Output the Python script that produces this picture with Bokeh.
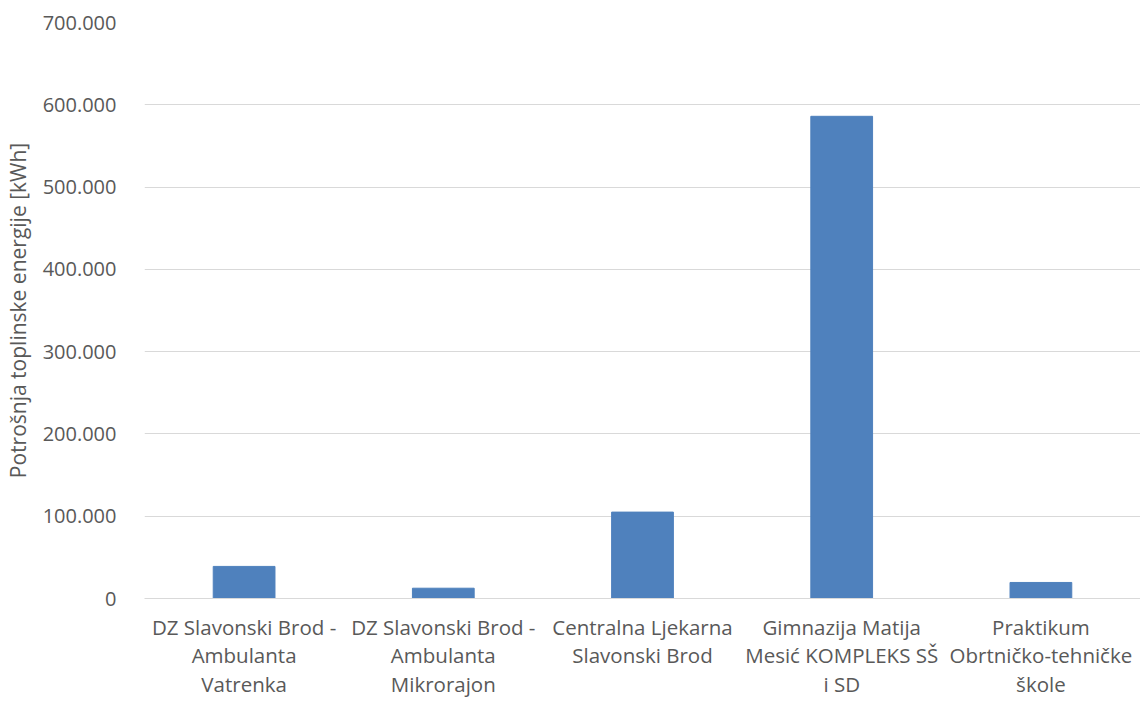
from bokeh.plotting import figure
from bokeh.embed import file_html
from bokeh.resources import INLINE
from bokeh.models import Range1d, FixedTicker

categories = [
    "DZ Slavonski Brod -\nAmbulanta\nVatrenka",
    "DZ Slavonski Brod -\nAmbulanta\nMikrorajon",
    "Centralna Ljekarna\nSlavonski Brod",
    "Gimnazija Matija\nMesić KOMPLEKS SŠ\ni SD",
    "Praktikum\nObrtničko-tehničke\nškole",
]
values = [39000, 12500, 105000, 586000, 19500]
y_ticks = [0, 100000, 200000, 300000, 400000, 500000, 600000, 700000]
y_tick_labels = ["0", "100.000", "200.000", "300.000", "400.000", "500.000", "600.000", "700.000"]
y_label = "Potrošnja toplinske energije [kWh]"

FONT = "Open Sans"
GREY = "#595959"

p = figure(x_range=categories, y_range=Range1d(0, 700000),
           width=1140, height=701, output_backend="svg", toolbar_location=None,
           min_border_left=144, min_border_right=0, min_border_top=22, min_border_bottom=60)
p.outline_line_color = None

p.vbar(x=categories, top=values, width=0.31, color="#4f81bd", line_color="#4f81bd")

p.yaxis.ticker = FixedTicker(ticks=y_ticks)
p.yaxis.major_label_overrides = {t: l for t, l in zip(y_ticks, y_tick_labels)}
p.yaxis.axis_line_color = None
p.yaxis.major_tick_line_color = None
p.yaxis.minor_tick_line_color = None
p.yaxis.major_label_standoff = 22
p.yaxis.major_label_text_font = FONT
p.yaxis.major_label_text_font_size = "20px"
p.yaxis.major_label_text_color = GREY
p.yaxis.axis_label = y_label
p.yaxis.axis_label_text_font = FONT
p.yaxis.axis_label_text_font_size = "21px"
p.yaxis.axis_label_text_font_style = "normal"
p.yaxis.axis_label_text_color = GREY
p.yaxis.axis_label_standoff = 8

p.xaxis.axis_line_color = "#d9d9d9"
p.xaxis.major_tick_line_color = None
p.xaxis.minor_tick_line_color = None
p.xaxis.major_label_standoff = 8
p.xaxis.major_label_text_font = FONT
p.xaxis.major_label_text_font_size = "20.5px"
p.xaxis.major_label_text_color = GREY
p.xaxis.major_label_text_line_height = 1.03

p.xgrid.grid_line_color = None
p.ygrid.grid_line_color = "#d9d9d9"
p.ygrid.grid_line_width = 1.2

open("out.html", "w").write(file_html(p, INLINE))
